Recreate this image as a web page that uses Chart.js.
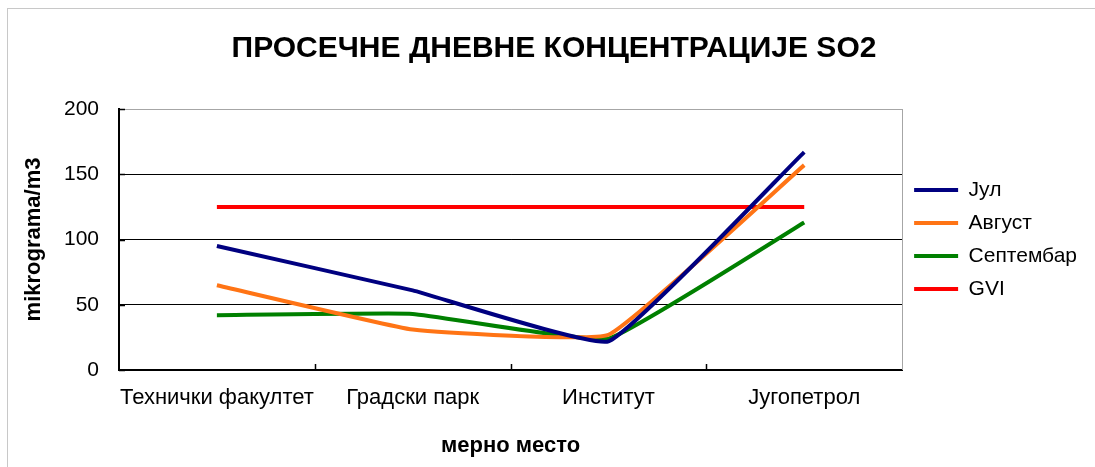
<!DOCTYPE html>
<html>
<head>
<meta charset="utf-8">
<script src="https://cdn.jsdelivr.net/npm/chart.js@4"></script>
<style>
  html, body { margin: 0; padding: 0; background: #fff; }
  #wrap { position: relative; width: 1095px; height: 467px; overflow: hidden; }
  #frame { position: absolute; left: 7px; top: 8px; right: -5px; bottom: -5px; border-left: 1px solid #c8c8c8; border-top: 1px solid #c8c8c8; }
  #chart { position: absolute; left: 0; top: 0; }
</style>
</head>
<body>
<div id="wrap"><div id="frame"></div><canvas id="chart" width="1095" height="467"></canvas></div>
<script>
'use strict';
var places = ['Технички факултет', 'Градски парк', 'Институт', 'Југопетрол'];
var jul = [95, 61, 22, 167];
var avgust = [65, 31, 27, 157];
var septembar = [42, 43, 24, 113];
var gvi = [125, 125, 125, 125];
var yTicks = [0, 50, 100, 150, 200];

Chart.defaults.font.family = "'Liberation Sans', Arial, sans-serif";
Chart.defaults.color = '#000';

// short inward tick marks and the grey right edge of the plot
var innerTicks = {
  id: 'innerTicks',
  beforeDatasetsDraw: function(chart) {
    var ctx = chart.ctx;
    var area = chart.chartArea;
    var x = chart.scales.x;
    var y = chart.scales.y;
    ctx.save();
    ctx.strokeStyle = '#a6a6a6';
    ctx.lineWidth = 1;
    ctx.beginPath();
    ctx.moveTo(Math.round(area.right) + 0.5, area.top);
    ctx.lineTo(Math.round(area.right) + 0.5, area.bottom);
    ctx.stroke();
    ctx.strokeStyle = '#000';
    ctx.lineWidth = 1.5;
    ctx.beginPath();
    for (var i = 0; i < places.length - 1; i++) {
      var px = Math.round((x.getPixelForValue(i) + x.getPixelForValue(i + 1)) / 2) + 0.5;
      ctx.moveTo(px, area.bottom);
      ctx.lineTo(px, area.bottom - 6);
    }
    yTicks.forEach(function(v) {
      var py = Math.round(y.getPixelForValue(v)) + 0.5;
      ctx.moveTo(area.left, py);
      ctx.lineTo(area.left + 6, py);
    });
    ctx.stroke();
    ctx.restore();
  }
};

function line(label, values, color) {
  return {
    label: label,
    data: values,
    borderColor: color,
    backgroundColor: color,
    borderWidth: 4,
    pointRadius: 0,
    tension: 0.1,
    fill: false
  };
}

var ctx = document.getElementById('chart').getContext('2d');
new Chart(ctx, {
  type: 'line',
  data: {
    labels: places,
    datasets: [
      line('Јул', jul, '#000080'),
      line('Август', avgust, '#ff7415'),
      line('Септембар', septembar, '#008000'),
      line('GVI', gvi, '#ff0000')
    ]
  },
  options: {
    responsive: false,
    animation: false,
    layout: { padding: { left: 21, right: 8, top: 10, bottom: 0 } },
    plugins: {
      tooltip: { enabled: false },
      title: {
        display: true,
        text: 'ПРОСЕЧНЕ ДНЕВНЕ КОНЦЕНТРАЦИЈЕ SO2',
        font: { size: 30, weight: 'bold' },
        color: '#000',
        padding: { top: 21, bottom: 42 }
      },
      legend: {
        position: 'right',
        fullSize: false,
        labels: {
          boxWidth: 44,
          boxHeight: 4,
          padding: 12,
          font: { size: 21 },
          color: '#000',
          generateLabels: function(chart) {
            var items = Chart.defaults.plugins.legend.labels.generateLabels(chart);
            items.forEach(function(it) {
              it.fillStyle = it.strokeStyle;
              it.lineWidth = 0;
            });
            return items;
          }
        }
      }
    },
    scales: {
      x: {
        offset: true,
        grid: { display: false, offset: true },
        border: { color: '#000', width: 2 },
        ticks: { padding: 7, font: { size: 22 }, color: '#000', maxRotation: 0, autoSkip: false },
        title: {
          display: true,
          text: 'мерно место',
          font: { size: 22, weight: 'bold' },
          color: '#000',
          padding: { top: 0, bottom: 8 }
        },
        afterFit: function(s) { s.height = 97; }
      },
      y: {
        min: yTicks[0],
        max: yTicks[yTicks.length - 1],
        grid: {
          drawTicks: false,
          color: function(c) { return c.tick && c.tick.value === 200 ? '#a6a6a6' : '#000'; },
          lineWidth: 1
        },
        border: { color: '#000', width: 2 },
        ticks: { stepSize: 50, padding: 20, font: { size: 21 }, color: '#000' },
        title: {
          display: true,
          text: 'mikrograma/m3',
          font: { size: 22, weight: 'bold' },
          color: '#000',
          padding: { top: 0, bottom: 0 }
        },
        afterFit: function(s) { s.width = 98; }
      }
    }
  },
  plugins: [innerTicks]
});
</script>
</body>
</html>
